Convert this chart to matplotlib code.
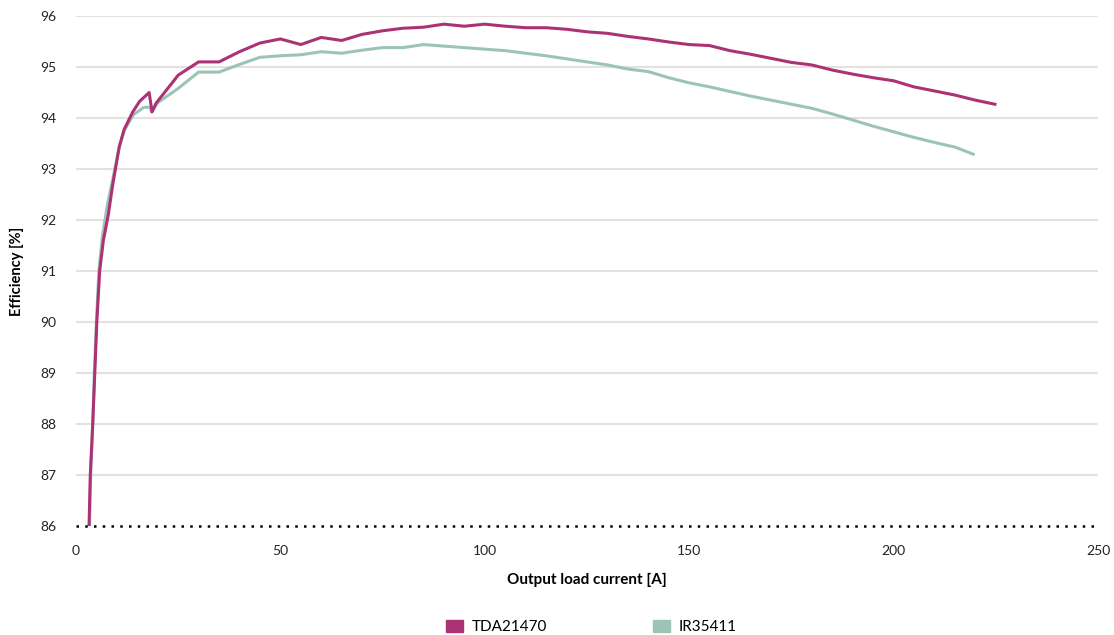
import numpy as np
import matplotlib.pyplot as plt
from matplotlib.patches import Patch

plt.rcParams['font.family'] = ['Lato', 'DejaVu Sans']

# TDA21470 efficiency vs load current
tda_x = [3.2, 3.5, 4.1, 4.6, 5.1, 5.8, 6.7, 7.9, 9.0, 10.6, 11.8, 13.9, 15.5, 17.9, 18.6, 19.6,
         25, 30, 35, 40, 45, 50, 55, 60, 65, 70, 75, 80, 85, 90, 95, 100, 105, 110, 115, 120,
         125, 130, 135, 140, 145, 150, 155, 160, 165, 170, 175, 180, 185, 190, 195, 200, 205,
         210, 215, 220, 224.8]
tda_y = [86.0, 87.0, 88.0, 89.0, 90.0, 91.0, 91.6, 92.1, 92.7, 93.44, 93.78, 94.12, 94.32, 94.5, 94.12, 94.29,
         94.84, 95.1, 95.1, 95.3, 95.47, 95.55, 95.44, 95.58, 95.52, 95.64, 95.71, 95.76, 95.78, 95.84, 95.80, 95.84,
         95.80, 95.77, 95.77, 95.74, 95.69, 95.66, 95.60, 95.55, 95.49, 95.44, 95.42, 95.32, 95.25, 95.17, 95.09,
         95.04, 94.94, 94.86, 94.79, 94.73, 94.61, 94.53, 94.45, 94.35, 94.27]

# IR35411 efficiency vs load current
ir_x = [3.3, 3.6, 4.1, 4.5, 5.0, 5.6, 6.5, 7.7, 9.0, 10.6, 11.8, 14.0, 16.6, 18.1, 18.5, 20,
        25, 30, 35, 40, 45, 50, 55, 60, 65, 70, 75, 80, 85, 90, 95, 100, 105, 110, 115, 120,
        125, 130, 135, 140, 145, 150, 155, 160, 165, 170, 175, 180, 185, 190, 195, 200, 205,
        210, 215, 219.5]
ir_y = [86.0, 87.0, 88.0, 89.0, 90.0, 91.0, 91.7, 92.3, 92.8, 93.44, 93.75, 94.06, 94.21, 94.21, 94.12, 94.3,
        94.58, 94.9, 94.9, 95.05, 95.19, 95.22, 95.24, 95.30, 95.27, 95.33, 95.38, 95.38, 95.44, 95.41, 95.38,
        95.35, 95.32, 95.27, 95.22, 95.16, 95.10, 95.04, 94.96, 94.91, 94.79, 94.69, 94.61, 94.52, 94.43,
        94.35, 94.27, 94.19, 94.08, 93.96, 93.84, 93.73, 93.62, 93.52, 93.43, 93.29]

c_tda = '#ad3275'
c_ir = '#9bc4b7'

fig = plt.figure(figsize=(11.14, 6.35), dpi=100)
ax = fig.add_axes([0.0682, 0.1717, 0.9174, 0.8031])

for yv in range(87, 97):
    ax.axhline(yv, color='#e6e1e1', lw=1.5, zorder=0)
ax.axhline(86, color='black', lw=1.8, ls=(0, (1, 2.5)), zorder=3, clip_on=False)

ax.plot(ir_x, ir_y, color=c_ir, lw=2.2, zorder=2)
ax.plot(tda_x, tda_y, color=c_tda, lw=2.2, zorder=2)

ax.set_xlim(0, 250)
ax.set_ylim(86, 96)
ax.set_xticks(np.arange(0, 251, 50))
ax.set_yticks(np.arange(86, 97, 1))
for s in ax.spines.values():
    s.set_visible(False)
ax.tick_params(length=0, labelsize=10, colors='#222222')
ax.tick_params(axis='x', pad=14)
ax.tick_params(axis='y', pad=14)

ax.set_xlabel('Output load current [A]', fontsize=11, fontweight='bold', labelpad=11)
ax.set_ylabel('Efficiency [%]', fontsize=10.5, fontweight='bold', labelpad=12)

handles = [Patch(color=c_tda, label='TDA21470'), Patch(color=c_ir, label='IR35411')]
fig.legend(handles=handles, loc='center', bbox_to_anchor=(0.531, 0.012), ncol=2,
           frameon=False, fontsize=11, handlelength=1.1, handleheight=0.75,
           columnspacing=6.9, handletextpad=0.6)

fig.savefig('out.png', dpi=100)
